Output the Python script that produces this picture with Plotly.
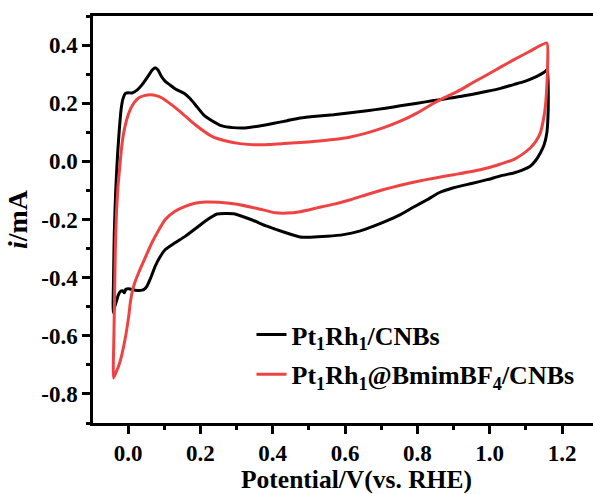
import plotly.graph_objects as go

# Pt1Rh1/CNBs (black) - closed CV loop
black_v = [-0.041, -0.040, -0.038, -0.034, -0.029, -0.024, -0.019, -0.014, -0.007, 0.002, 0.011, 0.025, 0.039,
           0.055, 0.067, 0.075, 0.083, 0.092, 0.103, 0.117, 0.131, 0.154, 0.170, 0.186, 0.209, 0.232, 0.260,
           0.290, 0.324, 0.360, 0.400, 0.440, 0.476, 0.520, 0.568, 0.615, 0.661, 0.707, 0.753, 0.800, 0.845,
           0.919, 0.993, 1.030, 1.066, 1.095, 1.121, 1.142, 1.155, 1.160,
           1.162, 1.161, 1.158, 1.150, 1.140, 1.127, 1.112, 1.090, 1.066, 1.030, 0.993, 0.950, 0.900, 0.860,
           0.827, 0.790, 0.753, 0.715, 0.679, 0.640, 0.596, 0.550, 0.504, 0.476, 0.430, 0.384, 0.340, 0.292,
           0.246, 0.214, 0.186, 0.158, 0.130, 0.103, 0.088, 0.075, 0.063, 0.052, 0.045, 0.039, 0.020, 0.002,
           -0.006, -0.010, -0.015, -0.021, -0.027, -0.033, -0.038, -0.041]
black_i = [-0.52, -0.40, -0.25, -0.10, 0.02, 0.11, 0.18, 0.215, 0.234, 0.236, 0.235, 0.245, 0.264,
           0.292, 0.314, 0.322, 0.314, 0.293, 0.275, 0.262, 0.249, 0.235, 0.218, 0.195, 0.160, 0.140, 0.122,
           0.116, 0.115, 0.121, 0.130, 0.140, 0.149, 0.155, 0.160, 0.167, 0.174, 0.182, 0.191, 0.200, 0.209,
           0.223, 0.241, 0.251, 0.264, 0.274, 0.287, 0.300, 0.310, 0.318,
           0.212, 0.150, 0.098, 0.055, 0.029, 0.003, -0.017, -0.030, -0.040, -0.050, -0.063, -0.076, -0.091, -0.108,
           -0.132, -0.157, -0.183, -0.205, -0.223, -0.240, -0.252, -0.258, -0.261, -0.260, -0.243, -0.223, -0.200, -0.180,
           -0.181, -0.205, -0.232, -0.258, -0.280, -0.303, -0.330, -0.361, -0.400, -0.430, -0.440, -0.443, -0.443, -0.438,
           -0.440, -0.452, -0.445, -0.447, -0.460, -0.485, -0.505, -0.52]

# Pt1Rh1@BmimBF4/CNBs (red) - closed CV loop
red_v = [-0.040, -0.039, -0.037, -0.035, -0.032, -0.028, -0.024, -0.021, -0.017, -0.012, -0.004, 0.006, 0.017,
         0.029, 0.045, 0.062, 0.078, 0.094, 0.120, 0.149, 0.186, 0.232, 0.274, 0.310, 0.347, 0.390, 0.430,
         0.476, 0.520, 0.568, 0.615, 0.661, 0.707, 0.753, 0.800, 0.845, 0.880, 0.919, 0.955, 0.993, 1.030,
         1.066, 1.110, 1.158,
         1.160, 1.158, 1.154, 1.148, 1.140, 1.127, 1.112, 1.090, 1.066, 1.030, 0.993, 0.950, 0.900, 0.850,
         0.799, 0.753, 0.707, 0.661, 0.615, 0.570, 0.523, 0.476, 0.440, 0.408, 0.360, 0.297, 0.250, 0.214,
         0.185, 0.158, 0.130, 0.103, 0.085, 0.066, 0.048, 0.029, 0.018, 0.011, 0.006, 0.002, -0.005, -0.012,
         -0.019, -0.026, -0.033, -0.040]
red_i = [-0.745, -0.60, -0.45, -0.30, -0.18, -0.09, -0.035, 0.006, 0.055, 0.098, 0.142, 0.178, 0.202,
         0.218, 0.226, 0.229, 0.226, 0.218, 0.195, 0.166, 0.126, 0.086, 0.069, 0.061, 0.057, 0.058, 0.061,
         0.065, 0.069, 0.075, 0.084, 0.098, 0.116, 0.138, 0.167, 0.200, 0.222, 0.246, 0.272, 0.298, 0.324,
         0.349, 0.378, 0.407,
         0.326, 0.260, 0.189, 0.140, 0.098, 0.068, 0.046, 0.024, 0.006, -0.009, -0.023, -0.035, -0.046, -0.057,
         -0.069, -0.082, -0.097, -0.114, -0.132, -0.147, -0.160, -0.173, -0.178, -0.177, -0.163, -0.147, -0.141, -0.140,
         -0.144, -0.155, -0.172, -0.200, -0.236, -0.280, -0.330, -0.384, -0.420, -0.452, -0.490, -0.533, -0.590, -0.636,
         -0.675, -0.704, -0.725, -0.745]

series_names = ["Pt<sub>1</sub>Rh<sub>1</sub>/CNBs", "Pt<sub>1</sub>Rh<sub>1</sub>@BmimBF<sub>4</sub>/CNBs"]
series_colors = ["#000000", "#EF4343"]

x_ticks = [0.0, 0.2, 0.4, 0.6, 0.8, 1.0, 1.2]
y_ticks = [-0.8, -0.6, -0.4, -0.2, 0.0, 0.2, 0.4]

x_title = "<b>Potential/V(vs. RHE)</b>"
y_title = "<b><i>i</i>/mA</b>"

FONT = "Liberation Serif"

fig = go.Figure()
for name, color, xs, ys, grp in [(series_names[0], series_colors[0], black_v, black_i, "a"),
                                 (series_names[1], series_colors[1], red_v, red_i, "b")]:
    fig.add_trace(go.Scatter(x=xs, y=ys, mode="lines", name=name, legendgroup=grp,
                             line=dict(color=color, width=3, shape="spline", smoothing=0.5)))

axis_common = dict(
    showline=True, linecolor="black", linewidth=2.5,
    ticks="outside", ticklen=8, tickwidth=2.5, tickcolor="black",
    showgrid=False, zeroline=False,
    tickfont=dict(family=FONT, size=23, color="black", weight="bold"),
    minor=dict(ticks="outside", ticklen=4, tickwidth=2.5, tickcolor="black", dtick=0.1, showgrid=False),
)

fig.update_xaxes(range=[-0.0968, 1.2856], tickvals=x_ticks, ticktext=[f"<b>{v:.1f}</b>" for v in x_ticks],
                 mirror=True, **axis_common)
fig.update_yaxes(range=[-0.9, 0.5], tickvals=y_ticks, ticktext=[f"<b>{v:.1f}</b>" for v in y_ticks],
                 title=dict(text=y_title, standoff=6,
                            font=dict(family=FONT, size=28, color="black", weight="bold")),
                 **axis_common)

fig.add_annotation(text=x_title, xref="paper", yref="paper", x=0.527, y=-0.139,
                   xanchor="center", yanchor="middle", showarrow=False,
                   font=dict(family=FONT, size=25.5, color="black", weight="bold"))

fig.update_layout(
    width=593, height=494,
    margin=dict(l=93, r=0, t=16, b=71, autoexpand=False),
    paper_bgcolor="white", plot_bgcolor="white",
    font=dict(family=FONT, color="black", weight="bold"),
    showlegend=True,
    legend=dict(x=0.317, y=0.275, xanchor="left", yanchor="top",
                bgcolor="rgba(0,0,0,0)", traceorder="grouped", tracegroupgap=3,
                font=dict(family=FONT, size=26, color="black", weight="bold")),
)

fig.write_html("out.html", config={"displayModeBar": False},
               post_script="document.body.style.margin='0';document.body.style.padding='0';")
